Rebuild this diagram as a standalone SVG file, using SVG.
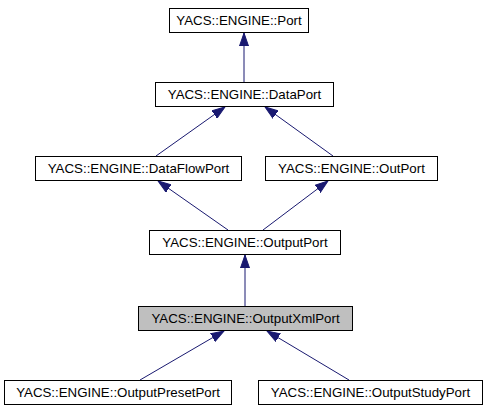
<svg xmlns="http://www.w3.org/2000/svg" width="487" height="411" viewBox="0 0 487 411">
<style>
.box{fill:#ffffff;stroke:#000000;stroke-width:1}
.sel{fill:#bfbfbf;stroke:#000000;stroke-width:1}
text{font-family:"Liberation Sans",Arial,Helvetica,sans-serif;font-size:13.3px;fill:#000000;text-anchor:middle}
.edge{stroke:#191970;stroke-width:1;fill:none;marker-end:url(#arr)}
</style>
<defs>
<marker id="arr" markerUnits="userSpaceOnUse" markerWidth="14" markerHeight="10" refX="13" refY="5" orient="auto">
<path d="M0,0.5 L13,5 L0,9.5 z" fill="#191970" stroke="#191970" stroke-width="1"/>
</marker>
</defs>
<rect width="487" height="411" fill="#ffffff"/>
<g id="connectors">
<line class="edge" x1="244" y1="82" x2="244" y2="33"/>
<line class="edge" x1="156" y1="156" x2="225" y2="107"/>
<line class="edge" x1="333" y1="156" x2="265" y2="107"/>
<line class="edge" x1="228" y1="230" x2="158" y2="181"/>
<line class="edge" x1="263" y1="230" x2="328" y2="181"/>
<line class="edge" x1="245" y1="306" x2="245" y2="255"/>
<line class="edge" x1="140" y1="380" x2="224" y2="331"/>
<line class="edge" x1="349" y1="380" x2="267" y2="331"/>
</g>
<g id="Port"><rect class="box" x="169.5" y="8.5" width="139" height="24"/><text x="239" y="25">YACS::ENGINE::Port</text></g>
<g id="DataPort"><rect class="box" x="155.5" y="82.5" width="178" height="24"/><text x="244.5" y="99">YACS::ENGINE::DataPort</text></g>
<g id="DataFlowPort"><rect class="box" x="35.5" y="156.5" width="206" height="24"/><text x="138.5" y="173">YACS::ENGINE::DataFlowPort</text></g>
<g id="OutPort"><rect class="box" x="265.5" y="156.5" width="172" height="24"/><text x="351.5" y="173">YACS::ENGINE::OutPort</text></g>
<g id="OutputPort"><rect class="box" x="149.5" y="230.5" width="191" height="24"/><text x="245" y="247">YACS::ENGINE::OutputPort</text></g>
<g id="OutputXmlPort"><rect class="sel" x="138.5" y="306.5" width="214" height="24"/><text x="245.5" y="323">YACS::ENGINE::OutputXmlPort</text></g>
<g id="OutputPresetPort"><rect class="box" x="4.5" y="380.5" width="227" height="24"/><text x="118" y="397">YACS::ENGINE::OutputPresetPort</text></g>
<g id="OutputStudyPort"><rect class="box" x="258.5" y="380.5" width="224" height="24"/><text x="370.5" y="397">YACS::ENGINE::OutputStudyPort</text></g>
</svg>
